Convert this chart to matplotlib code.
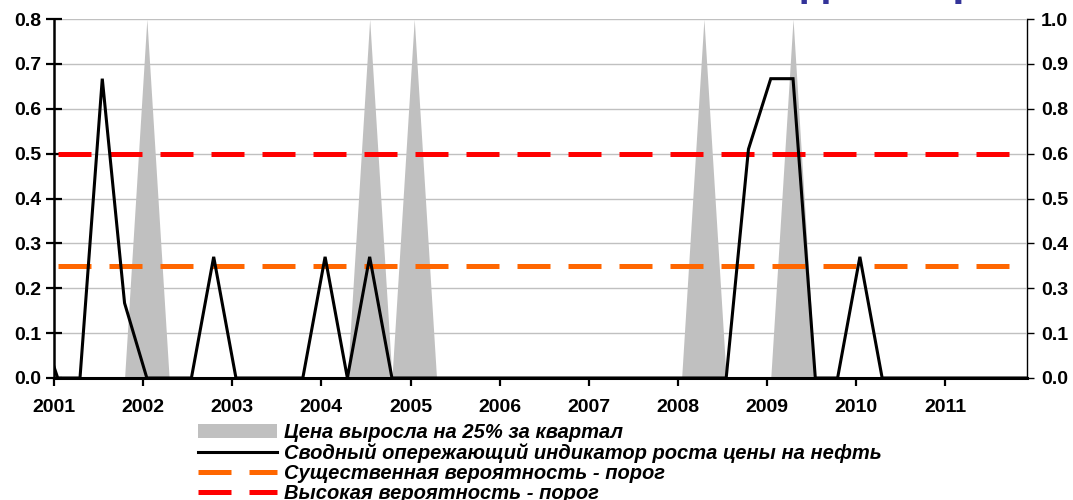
import numpy as np
import matplotlib.pyplot as plt
from matplotlib.lines import Line2D
from matplotlib.patches import Patch

# quarterly points, months counted from January 2001
months = np.arange(-3, 133, 3)

# composite leading indicator (left axis)
indicator = [0.15, 0, 0, 0.667, 0.167, 0, 0, 0, 0.27, 0,
             0, 0, 0, 0.27, 0, 0.27, 0, 0, 0, 0,
             0, 0, 0, 0, 0, 0, 0, 0, 0, 0,
             0, 0, 0.51, 0.667, 0.667, 0, 0, 0.27, 0, 0,
             0, 0, 0, 0, 0, 0]

# price grew 25% in a quarter (right axis)
price_jump = [0, 0, 0, 0, 0, 1, 0, 0, 0, 0,
              0, 0, 0, 0, 0, 1, 0, 1, 0, 0,
              0, 0, 0, 0, 0, 0, 0, 0, 0, 0,
              1, 0, 0, 0, 1, 0, 0, 0, 0, 0,
              0, 0, 0, 0, 0, 0]

high_threshold = 0.5
sig_threshold = 0.25

years = ['2001', '2002', '2003', '2004', '2005', '2006',
         '2007', '2008', '2009', '2010', '2011']
left_ticks = [0.0, 0.1, 0.2, 0.3, 0.4, 0.5, 0.6, 0.7, 0.8]
right_labels = ['0.0', '0.1', '0.3', '0.4', '0.5', '0.6', '0.8', '0.9', '1.0']

labels = ['Цена выросла на 25% за квартал',
          'Сводный опережающий индикатор роста цены на нефть',
          'Существенная вероятность - порог',
          'Высокая вероятность - порог']

plt.rcParams['font.family'] = ['Liberation Sans', 'DejaVu Sans']

fig = plt.figure(figsize=(10.73, 5), dpi=100)
ax = fig.add_axes([54 / 1073, 1 - 378 / 500, (1027 - 54) / 1073, (378 - 19) / 500])
ax2 = ax.twinx()
ax.set_zorder(ax2.get_zorder() + 1)
ax.patch.set_visible(False)

x = months + 0.5
gray = '#c0c0c0'
ax2.fill_between(x, price_jump, 0, color=gray, lw=0)

xr = [0.5, 130.5]
dash = (6.6, 3.6)
ax.plot(xr, [sig_threshold] * 2, color='#ff6600', lw=3.6, dashes=dash,
        dash_capstyle='butt')
ax.plot(xr, [high_threshold] * 2, color='#ff0000', lw=3.6, dashes=dash,
        dash_capstyle='butt')
ax.plot(x, indicator, color='black', lw=2.2, solid_joinstyle='miter')

ax.set_xlim(0, 131)
ax.set_ylim(0, 0.8)
ax2.set_ylim(0, 1.0)

ax.set_yticks(left_ticks)
ax.set_yticklabels(['%.1f' % v for v in left_ticks])
ax.yaxis.grid(True, color=gray, lw=1)
ax.set_axisbelow(True)
ax2.set_yticks(np.linspace(0, 1, 9))
ax2.set_yticklabels(right_labels)

ax.set_xticks(np.arange(0, 121, 12))
ax.set_xticklabels(years)

for lab in ax.get_xticklabels() + ax.get_yticklabels() + ax2.get_yticklabels():
    lab.set_fontsize(14)
    lab.set_fontweight('bold')

ax.tick_params(axis='y', direction='inout', length=12, width=1.6, pad=3)
ax.tick_params(axis='x', direction='out', length=6, width=1.6, pad=9)
ax2.tick_params(axis='y', direction='out', length=5, width=1, pad=5)

for a in (ax, ax2):
    a.spines['top'].set_visible(False)
ax.spines['right'].set_visible(False)
ax2.spines['left'].set_visible(False)
ax2.spines['bottom'].set_visible(False)
ax.spines['left'].set_linewidth(1.8)
ax.spines['bottom'].set_linewidth(2.2)
ax2.spines['right'].set_linewidth(1)

handles = [Patch(color=gray, lw=0),
           Line2D([], [], color='black', lw=2.2),
           Line2D([], [], color='#ff6600', lw=3.6, dashes=dash),
           Line2D([], [], color='#ff0000', lw=3.6, dashes=dash)]
fig.legend(handles, labels, loc='upper left',
           bbox_to_anchor=(198 / 1073, 1 - 423 / 500), frameon=False,
           borderpad=0, borderaxespad=0, handlelength=3.9, handleheight=0.7,
           handletextpad=0.35, labelspacing=0.05,
           prop=dict(family='Liberation Sans', weight='bold', style='italic', size=14.5))

# cut-off slide title above the chart
fig.text(748 / 1073, 1 + 5 / 500, 'индикатор', color='#333399', fontsize=32,
         fontweight='bold', va='baseline', ha='left')

fig.savefig('out.png', dpi=100)
